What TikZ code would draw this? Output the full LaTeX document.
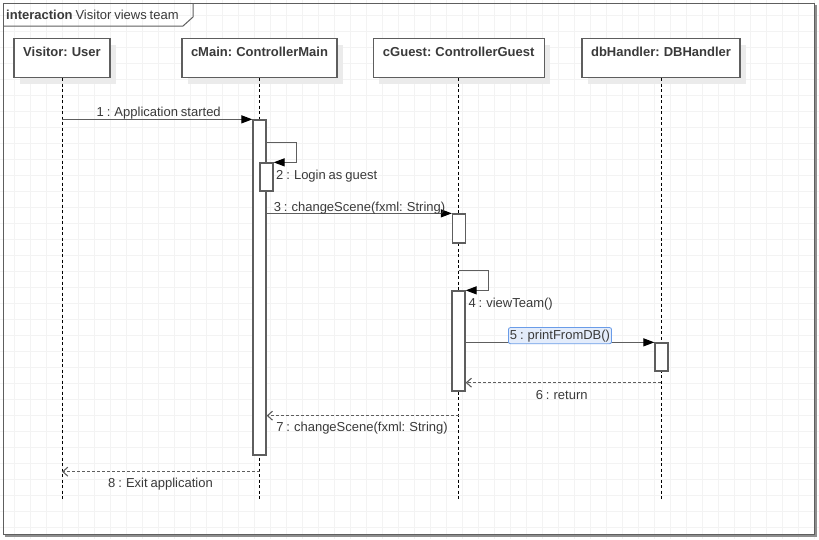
\documentclass[tikz,border=0pt]{standalone}
\usepackage{fontspec}
\setmainfont{Liberation Sans}[WordSpace=0.8]
\usetikzlibrary{arrows.meta,shadows}
\definecolor{lc}{HTML}{5E5E5E}
\definecolor{tc}{HTML}{3A3A3A}
\definecolor{gridc}{HTML}{F3F3F3}
\definecolor{selfill}{HTML}{E3ECFB}
\definecolor{selline}{HTML}{6A9CE8}
\tikzset{
  lbl/.style={font=\fontsize{13}{15}\selectfont, text=tc, inner sep=0pt, anchor=base},
  headbox/.style={draw=lc, line width=1.1pt, fill=white, minimum height=39pt, inner sep=0pt,
    drop shadow={shadow xshift=6pt, shadow yshift=-6pt, fill=black!8, opacity=1}},
  headtxt/.style={font=\bfseries\fontsize{13}{15}\selectfont, text=tc, inner sep=0pt, anchor=base},
  life/.style={draw=black, line width=0.8pt, dash pattern=on 3pt off 2.5pt},
  act/.style={draw=lc, line width=1.3pt, fill=white, minimum width=13pt, inner sep=0pt},
  msg/.style={draw=lc, line width=1.2pt, -{Triangle[length=11pt,width=8pt,color=black]}},
  ret/.style={draw=lc, line width=1.1pt, dash pattern=on 3pt off 2pt, -{Straight Barb[length=5pt,width=9pt]}},
}
\begin{document}
\begin{tikzpicture}[x=1pt,y=-1pt]
\useasboundingbox (0,0) rectangle (819,539);
\fill[white] (0,0) rectangle (819,539);
% grid
\foreach \i in {0,...,50} \draw[gridc, line width=0.9pt] (14.7+16*\i,0) -- (14.7+16*\i,539);
\foreach \j in {0,...,33} \draw[gridc, line width=0.9pt] (0,15.3+16*\j) -- (819,15.3+16*\j);
% frame
\draw[lc!70, line width=2pt] (815.5,5) -- (815.5,535.5) -- (5,535.5);
\draw[lc, line width=1pt] (3,3) rectangle (814,534);
\draw[lc, line width=1pt] (3,26) -- (183,26) -- (193,17) -- (193,3);
\node[lbl, anchor=base west] (title) at (6,19) {\textbf{interaction} Visitor views team};
% heads
\node[headbox, minimum width=96pt] (u) at (62,58) {};
\node[headbox, minimum width=155pt] (m) at (259.5,58) {};
\node[headbox, minimum width=171pt] (g) at (458.7,58) {};
\node[headbox, minimum width=158pt] (d) at (661,58) {};
\node[headtxt] (ut) at (u.center |- 0,56) {Visitor: User};
\node[headtxt] (mt) at (m.center |- 0,56) {cMain: ControllerMain};
\node[headtxt] (gt) at (g.center |- 0,56) {cGuest: ControllerGuest};
\node[headtxt] (dt) at (d.center |- 0,56) {dbHandler: DBHandler};
% lifelines
\coordinate (bot) at (0,500);
\draw[life] (u.south) -- (u.south |- bot);
\draw[life] (m.south) -- (m.south |- bot);
\draw[life] (g.south) -- (g.south |- bot);
\draw[life] (d.south) -- (d.south |- bot);
% activations
\node[act, minimum height=335pt] (a1) at (259.5,287.5) {};
\node[act, minimum height=28pt] (a2) at (266.5,177) {};
\node[act, minimum height=29pt] (a3) at (459,228.5) {};
\node[act, minimum height=100pt] (a4) at (458.5,341) {};
\node[act, minimum height=28pt] (a5) at (661.5,357) {};
% 1
\draw[msg] (a1.north west -| u.south) -- (a1.north west);
\node[lbl] (l1) at (158.7,116.7) {1 : Application started};
% 2
\draw[msg] ([yshift=-23pt]a1.north east) -- ++(30,0) |- (a2.north east);
\node[lbl, anchor=base west] (l2) at (276,179.3) {2 : Login as guest};
% 3
\draw[msg] (a1.east |- a3.north west) -- (a3.north west);
\node[lbl] (l3) at (359.5,211) {3 : changeScene(fxml: String)};
% 4
\draw[msg] ([yshift=20pt]a4.north) -- ++(30,0) |- (a4.north east);
\node[lbl, anchor=base west] (l4) at (468.3,307.3) {4 : viewTeam()};
% 5
\draw[msg] (a4.east |- a5.north west) -- (a5.north west);
\node[lbl, fill=selfill, draw=selline, line width=0.8pt, rounded corners=2pt, inner xsep=1.5pt, inner ysep=2pt] (l5) at (560,339) {5 : printFromDB()};
% 6
\coordinate (p6) at ([yshift=-11pt]a5.south);
\draw[ret] (p6 -| d.south) -- (p6 -| a4.east);
\node[lbl] (l6) at (561.7,399) {6 : return};
% 7
\coordinate (p7) at ([yshift=-24pt]a4.south);
\draw[ret] (p7 -| g.south) -- (p7 -| a1.east);
\node[lbl] (l7) at (362,431) {7 : changeScene(fxml: String)};
% 8
\coordinate (p8) at ([yshift=-16pt]a1.south);
\draw[ret] (p8 -| m.south) -- (p8 -| u.south);
\node[lbl] (l8) at (160.5,487.7) {8 : Exit application};
\end{tikzpicture}
\end{document}
